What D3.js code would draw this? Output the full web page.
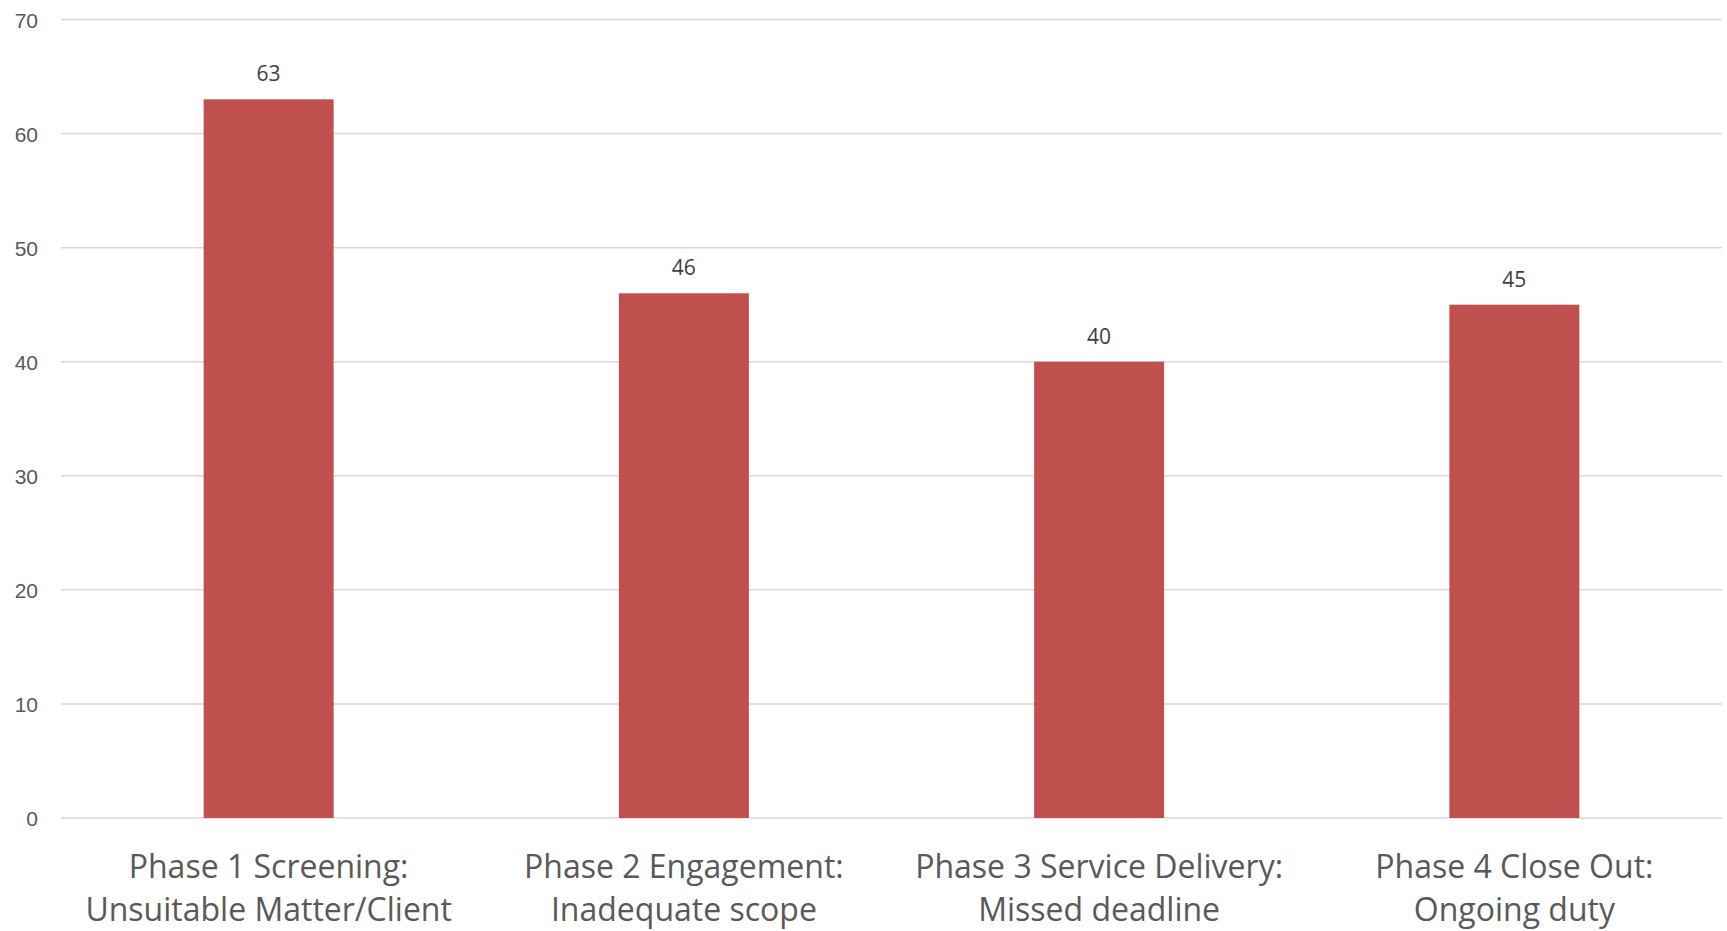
<!DOCTYPE html>
<html>
<head>
<meta charset="utf-8">
<script src="https://cdn.jsdelivr.net/npm/d3@7"></script>
<style>
  html, body { margin: 0; padding: 0; background: #fff; }
  svg { display: block; font-family: "Open Sans", "Noto Sans", sans-serif; }
  .grid line { stroke: #d9d9d9; stroke-width: 1.5; }
  .y-axis text { fill: #595959; font-size: 21px; }
  .x-label { fill: #595959; font-size: 32px; }
  .bar-label { fill: #404040; font-size: 21px; }
</style>
</head>
<body>
<svg id="chart"></svg>
<script>
const categories = [
  ['Phase 1 Screening:', 'Unsuitable Matter/Client'],
  ['Phase 2 Engagement:', 'Inadequate scope'],
  ['Phase 3 Service Delivery:', 'Missed deadline'],
  ['Phase 4 Close Out:', 'Ongoing duty']
];
const counts = [63, 46, 40, 45];
const yTicks = [0, 10, 20, 30, 40, 50, 60, 70];

const W = 1727, H = 931;
const margin = { top: 19.5, right: 5, bottom: 113, left: 61 };

const svg = d3.select('#chart').attr('width', W).attr('height', H);

const x = d3.scaleBand()
  .domain(d3.range(categories.length))
  .range([margin.left, W - margin.right])
  .paddingInner(0.687)
  .paddingOuter(0.3435);

const y = d3.scaleLinear()
  .domain([0, 70])
  .range([H - margin.bottom, margin.top]);

// gridlines
svg.append('g')
  .attr('class', 'grid')
  .selectAll('line')
  .data(yTicks)
  .enter().append('line')
  .attr('x1', margin.left)
  .attr('x2', W - margin.right)
  .attr('y1', d => y(d))
  .attr('y2', d => y(d));

// y axis labels
const yAxis = d3.axisLeft(y).tickValues(yTicks).tickSize(0).tickPadding(0);
const yg = svg.append('g')
  .attr('class', 'y-axis')
  .attr('transform', `translate(38,0)`)
  .call(yAxis);
yg.select('.domain').remove();
yg.selectAll('text').attr('font-family', null).attr('font-size', null).attr('dy', '0.36em');

// bars
svg.append('g')
  .selectAll('rect')
  .data(counts)
  .enter().append('rect')
  .attr('x', (d, i) => x(i))
  .attr('width', x.bandwidth())
  .attr('y', d => y(d))
  .attr('height', d => y(0) - y(d))
  .attr('fill', '#c0504d');

// value labels
svg.append('g')
  .selectAll('text')
  .data(counts)
  .enter().append('text')
  .attr('class', 'bar-label')
  .attr('x', (d, i) => x(i) + x.bandwidth() / 2)
  .attr('y', d => y(d) - 18)
  .attr('text-anchor', 'middle')
  .text(d => d);

// category labels
const xl = svg.append('g')
  .selectAll('text')
  .data(categories)
  .enter().append('text')
  .attr('class', 'x-label')
  .attr('text-anchor', 'middle')
  .attr('x', (d, i) => x(i) + x.bandwidth() / 2)
  .attr('y', 878);

xl.selectAll('tspan')
  .data(d => d)
  .enter().append('tspan')
  .attr('x', function () { return d3.select(this.parentNode).attr('x'); })
  .attr('dy', (d, i) => i === 0 ? 0 : 43)
  .text(d => d);
</script>
</body>
</html>
